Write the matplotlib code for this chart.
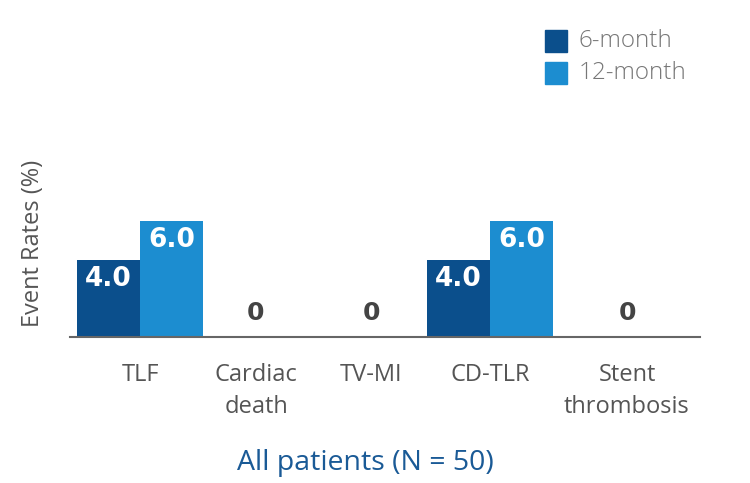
import matplotlib.pyplot as plt
from matplotlib.patches import Rectangle

categories = ["TLF", "Cardiac\ndeath", "TV-MI", "CD-TLR", "Stent\nthrombosis"]
six_month = [4.0, 0, 0, 4.0, 0]
twelve_month = [6.0, 0, 0, 6.0, 0]
series_names = ["6-month", "12-month"]

dark = "#0b4f8c"
light = "#1c8dd0"
grey = "#555555"

plt.rcParams["font.family"] = ["Open Sans", "DejaVu Sans"]
bold_font = ["DejaVu Sans"]

fig = plt.figure(figsize=(7.5, 4.83), dpi=100)
ax = fig.add_axes([70 / 750, 1 - 337 / 483, 630 / 750, 307 / 483])

# category centres in axis units (pixel-like)
centers = [140, 256, 371, 490, 627]
w = 63
ax.set_xlim(70, 700)
ax.set_ylim(0, 307 / 19.3)

for c, a, b in zip(centers, six_month, twelve_month):
    if a == 0 and b == 0:
        ax.text(c, 0.6, "0", ha="center", va="bottom", fontsize=18,
                fontweight="bold", color="#444444", family=bold_font)
        continue
    ax.bar(c - w / 2, a, width=w, color=dark)
    ax.bar(c + w / 2, b, width=w, color=light)
    ax.text(c - w / 2, a - 0.3, f"{a:.1f}", ha="center", va="top",
            fontsize=19, fontweight="bold", color="white", family=bold_font)
    ax.text(c + w / 2, b - 0.3, f"{b:.1f}", ha="center", va="top",
            fontsize=19, fontweight="bold", color="white", family=bold_font)

for s in ["top", "right", "left"]:
    ax.spines[s].set_visible(False)
ax.spines["bottom"].set_color("#666666")
ax.spines["bottom"].set_linewidth(1.5)
ax.set_yticks([])
ax.set_xticks(centers)
ax.set_xticklabels(categories, fontsize=17, color=grey, va="top", linespacing=1.4)
ax.tick_params(axis="x", length=0, pad=19)

fig.text(33 / 750, 1 - 243 / 483, "Event Rates (%)", rotation=90, ha="center",
         va="center", fontsize=17, color=grey)
fig.text(365 / 750, 1 - 463 / 483, "All patients (N = 50)", ha="center",
         va="center", fontsize=20.5, color="#1a5a96")

# legend
for i, (name, col) in enumerate(zip(series_names, [dark, light])):
    y = 30 + i * 32
    fig.patches.append(Rectangle((545 / 750, 1 - (y + 22) / 483), 22 / 750, 22 / 483,
                                 transform=fig.transFigure, color=col))
    fig.text(579 / 750, 1 - (y + 11) / 483, name, ha="left", va="center",
             fontsize=17.5, fontweight="light", color="#777777")

fig.savefig("out.png", dpi=100)
